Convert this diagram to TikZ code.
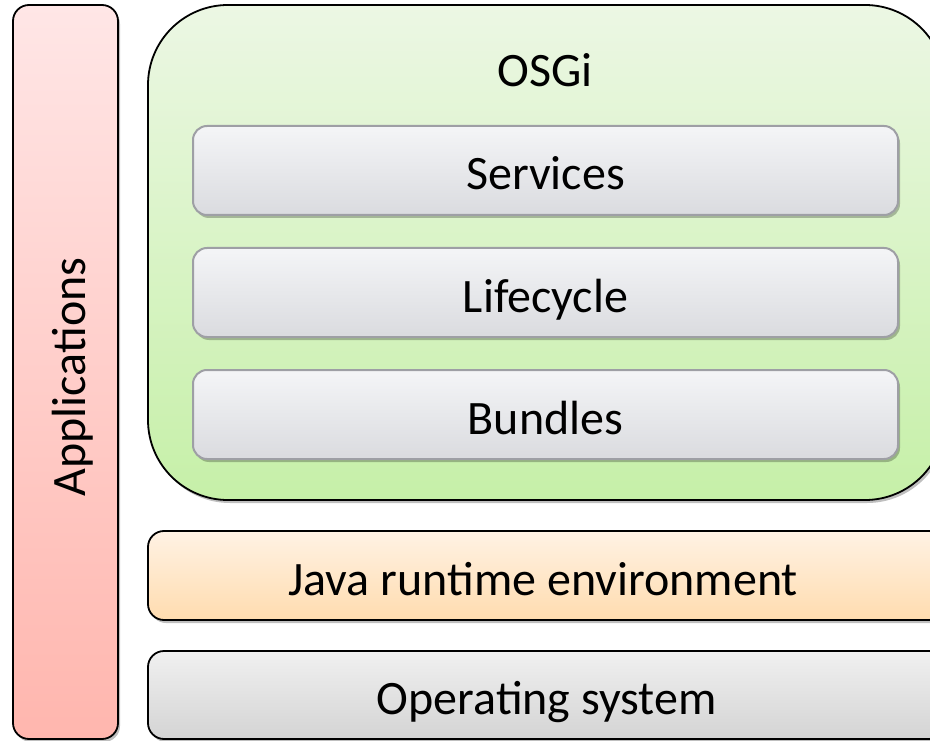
\documentclass[tikz,border=0pt]{standalone}
\usepackage{fontspec}
\setmainfont{Carlito}
\usetikzlibrary{shadows, positioning}

\newcommand{\tilig}{{\addfontfeature{Ligatures=Discretionary}ti}}

\definecolor{appTop}{RGB}{255,230,230}
\definecolor{appBot}{RGB}{255,182,174}
\definecolor{osgiTop}{RGB}{236,247,228}
\definecolor{osgiBot}{RGB}{198,240,168}
\definecolor{jreTop}{RGB}{255,242,228}
\definecolor{jreBot}{RGB}{255,220,175}
\definecolor{osTop}{RGB}{240,240,240}
\definecolor{osBot}{RGB}{212,212,212}
\definecolor{layTop}{RGB}{244,245,247}
\definecolor{layBot}{RGB}{218,219,223}
\definecolor{layLine}{RGB}{158,159,165}

\tikzset{
  shade/.style={drop shadow={shadow xshift=2pt, shadow yshift=-3pt, opacity=0.25, fill=black}},
  txt/.style={font=\fontsize{48}{58}\selectfont, text height=39pt, text depth=0pt},
  outerbox/.style={draw=black, line width=1.8pt, rounded corners=16pt, shade, txt, inner sep=0pt},
  layerbox/.style={draw=layLine, line width=2pt, rounded corners=14pt, shade, txt,
    top color=layTop, bottom color=layBot, minimum width=705pt, minimum height=89pt, inner sep=0pt},
}

\begin{document}
\begin{tikzpicture}[x=1pt, y=-1pt]
\useasboundingbox (0,0) rectangle (930,741);
\clip (0,0) rectangle (930,741);

% Applications column on the left
\node[outerbox, top color=appTop, bottom color=appBot,
      minimum width=105pt, minimum height=734pt] (app) at (65.5,372) {};
\node[txt, rotate=90] (applbl) at (65.5,377) {Applica\tilig ons};

% OSGi framework with its layers
\node[outerbox, rounded corners=80pt, top color=osgiTop, bottom color=osgiBot,
      minimum width=797pt, minimum height=495pt] (osgi) at (546.5,252.5) {};
\node[font=\fontsize{48}{58}\selectfont, anchor=base] (osgilbl) at (545,87) {OSGi};
\node[layerbox] (srv) at (545.5,170.5) {Services};
\node[layerbox, below=31pt of srv] (life) {Lifecycle};
\node[layerbox, below=31pt of life] (bnd) {Bundles};

% Runtime and operating system
\node[outerbox, top color=jreTop, bottom color=jreBot,
      minimum width=797pt, minimum height=89pt] (jre) at (546.5,575.5) {};
\node[txt] (jrelbl) at (543,575.5) {Java run\tilig me environment};
\node[outerbox, top color=osTop, bottom color=osBot,
      minimum width=797pt, minimum height=88pt] (os) at (546.5,695) {Opera\tilig ng system};
\end{tikzpicture}
\end{document}
